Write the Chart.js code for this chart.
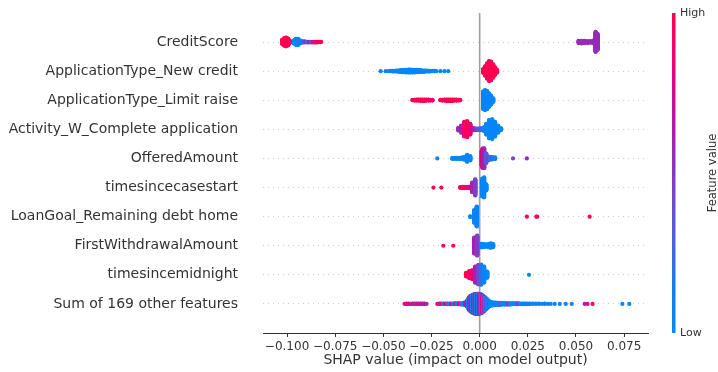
<!DOCTYPE html>
<html>
<head>
<meta charset="utf-8">
<script src="https://cdn.jsdelivr.net/npm/chart.js@4.4.0/dist/chart.umd.min.js"></script>
<style>
  html, body { margin: 0; padding: 0; background: #fff; }
  canvas { display: block; }
</style>
</head>
<body>
<canvas id="shapChart" width="718" height="372"></canvas>
<script>
// features, top row first
const featureNames = [
    "CreditScore",
    "ApplicationType_New credit",
    "ApplicationType_Limit raise",
    "Activity_W_Complete application",
    "OfferedAmount",
    "timesincecasestart",
    "LoanGoal_Remaining debt home",
    "FirstWithdrawalAmount",
    "timesincemidnight",
    "Sum of 169 other features"
];

const xTicks = [-0.1, -0.075, -0.05, -0.025, 0, 0.025, 0.05, 0.075];

// each entry: [SHAP value, points piled up at that value, feature value (0 = low, 1 = high)]
const creditScore = [
    [-0.1025, 14, 1], [-0.1015, 24, 1], [-0.1005, 28, 1], [-0.0994, 22, 1], [-0.0984, 6, 0.95],
    [-0.0963, 12, 0.05], [-0.0953, 20, 0.05], [-0.0943, 20, 0.1], [-0.0932, 10, 0.15],
    [-0.0927, 6, 0.05], [-0.0917, 4, 0.3], [-0.0907, 4, 0.5], [-0.0896, 3, 0.2],
    [-0.0886, 3, 0.6], [-0.0876, 3, 0.4], [-0.0865, 3, 0.8], [-0.0855, 3, 0.9],
    [-0.0845, 3, 1], [-0.0834, 2, 1], [-0.0824, 2, 1],
    [0.0514, 8, 0.55], [0.0530, 9, 0.55], [0.0545, 8, 0.55], [0.0561, 7, 0.55],
    [0.0576, 6, 0.55], [0.0592, 10, 0.55], [0.0602, 62, 0.55], [0.0612, 50, 0.55]
];

const newCredit = [
    [-0.0514, 1, 0.05], [-0.0488, 1, 0.05], [-0.0473, 1, 0.05], [-0.0462, 2, 0.05],
    [-0.0452, 3, 0.05], [-0.0442, 3, 0.05], [-0.0431, 4, 0.05], [-0.0421, 5, 0.05],
    [-0.0411, 6, 0.05], [-0.0400, 7, 0.05], [-0.0390, 8, 0.05], [-0.0380, 9, 0.05],
    [-0.0369, 10, 0.05], [-0.0359, 10, 0.05], [-0.0349, 9, 0.05], [-0.0338, 9, 0.05],
    [-0.0328, 8, 0.05], [-0.0318, 7, 0.05], [-0.0307, 6, 0.05], [-0.0297, 5, 0.05],
    [-0.0287, 5, 0.05], [-0.0276, 4, 0.05], [-0.0266, 3, 0.05], [-0.0256, 3, 0.05],
    [-0.0245, 2, 0.05], [-0.0235, 2, 0.05], [-0.0225, 1, 0.05], [-0.0204, 1, 0.05],
    [-0.0183, 1, 0.05], [-0.0163, 1, 0.05],
    [0.0018, 12, 1], [0.0028, 30, 1], [0.0039, 48, 1], [0.0049, 62, 1],
    [0.0059, 58, 1], [0.0070, 42, 1], [0.0080, 24, 1], [0.0090, 9, 1]
];

const limitRaise = [
    [-0.0349, 2, 1], [-0.0338, 3, 1], [-0.0328, 4, 1], [-0.0318, 4, 1], [-0.0307, 5, 1],
    [-0.0297, 5, 1], [-0.0287, 5, 1], [-0.0276, 4, 1], [-0.0266, 4, 1], [-0.0256, 3, 0.9],
    [-0.0245, 3, 0.85],
    [-0.0204, 2, 1], [-0.0194, 3, 1], [-0.0183, 4, 1], [-0.0173, 5, 1], [-0.0163, 5, 1],
    [-0.0152, 5, 1], [-0.0142, 5, 1], [-0.0132, 4, 1], [-0.0121, 4, 1], [-0.0111, 3, 1],
    [-0.0101, 2, 1],
    [0.0018, 55, 0.05], [0.0028, 62, 0.05], [0.0039, 56, 0.05], [0.0049, 42, 0.05],
    [0.0059, 28, 0.05], [0.0070, 12, 0.05]
];

const completeApplication = [
    [-0.0111, 8, 0.55], [-0.0096, 20, 0.6], [-0.0080, 40, 0.9], [-0.0065, 44, 1],
    [-0.0049, 30, 0.85], [-0.0038, 8, 0.7], [-0.0028, 6, 0.6], [-0.0018, 5, 0.5],
    [-0.0008, 5, 0.4], [0.0003, 6, 0.3], [0.0013, 6, 0.2], [0.0023, 12, 0.1],
    [0.0034, 30, 0.05], [0.0049, 50, 0.05], [0.0065, 54, 0.05], [0.0080, 40, 0.05],
    [0.0096, 20, 0.05], [0.0111, 6, 0.05]
];

const offeredAmount = [
    [-0.0220, 1, 0.05], [-0.0142, 3, 0.05], [-0.0132, 3, 0.05], [-0.0121, 4, 0.05],
    [-0.0111, 4, 0.05], [-0.0101, 4, 0.05], [-0.0090, 6, 0.05],
    [-0.0080, 10, 0.05], [-0.0065, 22, 0.05], [-0.0049, 14, 0.05],
    [0.0008, 40, 0.15], [0.0015, 60, 0.8], [0.0023, 62, 0.6], [0.0034, 30, 0.3],
    [0.0044, 12, 0.4], [0.0054, 10, 0.25], [0.0065, 8, 0.2], [0.0080, 6, 0.1],
    [0.0173, 1, 0.45], [0.0245, 1, 0.55]
];

const timeSinceCaseStart = [
    [-0.0240, 1, 1], [-0.0199, 1, 1], [-0.0101, 3, 1], [-0.0090, 5, 1], [-0.0080, 5, 0.95],
    [-0.0070, 4, 0.9], [-0.0059, 5, 0.85], [-0.0049, 6, 0.8], [-0.0039, 30, 0.6],
    [-0.0023, 50, 0.45],
    [0.0013, 55, 0.05], [0.0023, 62, 0.05], [0.0034, 20, 0.05]
];

const remainingDebtHome = [
    [-0.0049, 3, 0.05], [-0.0028, 40, 0.05], [-0.0015, 62, 0.05],
    [0.0245, 1, 1], [0.0294, 1, 1], [0.0299, 1, 1], [0.0571, 1, 1]
];

const firstWithdrawal = [
    [-0.0189, 1, 1], [-0.0137, 1, 1],
    [-0.0028, 50, 0.6], [-0.0013, 62, 0.45],
    [0.0008, 12, 0.1], [0.0018, 10, 0.05], [0.0028, 8, 0.05], [0.0039, 8, 0.05],
    [0.0049, 12, 0.05], [0.0059, 14, 0.05], [0.0070, 10, 0.05]
];

const timeSinceMidnight = [
    [-0.0070, 12, 1], [-0.0054, 22, 0.95], [-0.0039, 28, 0.85], [-0.0023, 50, 0.6],
    [-0.0008, 60, 0.4], [0.0008, 62, 0.2], [0.0023, 50, 0.05], [0.0039, 20, 0.05],
    [0.0256, 1, 0.05]
];

const otherFeatures = [
    [-0.0390, 1, 1], [-0.0380, 2, 0.7], [-0.0369, 2, 0.9], [-0.0359, 1, 0.6],
    [-0.0349, 2, 0.8], [-0.0338, 2, 0.55], [-0.0328, 2, 0.9], [-0.0318, 2, 0.6],
    [-0.0307, 2, 0.75], [-0.0297, 2, 0.55], [-0.0287, 2, 0.8], [-0.0276, 1, 0.6],
    [-0.0220, 1, 0.9], [-0.0209, 2, 0.6], [-0.0199, 2, 1], [-0.0189, 2, 0.2],
    [-0.0178, 2, 0.9], [-0.0168, 3, 0.4], [-0.0158, 3, 0.1], [-0.0147, 3, 0.8],
    [-0.0137, 3, 0.05], [-0.0127, 4, 0.6], [-0.0116, 4, 0.1], [-0.0106, 4, 0.9],
    [-0.0096, 5, 0.3], [-0.0085, 6, 0.05], [-0.0075, 10, 0.6],
    [-0.0065, 20, 1], [-0.0059, 32, 0.1], [-0.0054, 40, 0.9], [-0.0049, 46, 0.5],
    [-0.0044, 50, 1], [-0.0039, 54, 0.05], [-0.0034, 57, 0.8], [-0.0028, 60, 0.4],
    [-0.0023, 61, 1], [-0.0018, 62, 0.1], [-0.0013, 62, 0.7], [-0.0008, 62, 0.05],
    [-0.0003, 61, 0.95], [0.0003, 60, 0.5], [0.0008, 58, 0.05], [0.0013, 55, 0.85],
    [0.0018, 50, 0.1], [0.0023, 45, 0.6], [0.0028, 40, 0.05], [0.0034, 34, 0.3],
    [0.0039, 28, 0.05], [0.0044, 22, 0.05], [0.0049, 17, 0.2],
    [0.0054, 14, 0.05], [0.0065, 11, 0.05], [0.0075, 9, 0.05], [0.0085, 8, 0.1],
    [0.0096, 7, 0.05], [0.0106, 7, 0.3], [0.0116, 6, 0.05], [0.0127, 6, 0.05],
    [0.0137, 5, 0.05], [0.0147, 5, 0.5], [0.0158, 5, 0.05], [0.0168, 4, 0.05],
    [0.0178, 4, 0.05], [0.0189, 4, 0.05], [0.0199, 4, 0.45], [0.0209, 3, 0.05],
    [0.0220, 3, 0.05], [0.0230, 3, 0.05], [0.0240, 3, 0.05], [0.0250, 3, 0.05],
    [0.0261, 2, 0.05], [0.0276, 2, 0.05], [0.0292, 2, 0.05], [0.0307, 2, 0.05],
    [0.0323, 1, 0.05], [0.0338, 2, 0.05], [0.0354, 1, 0.05], [0.0369, 1, 0.05],
    [0.0390, 1, 0.05], [0.0416, 1, 0.05], [0.0447, 1, 0.05], [0.0478, 1, 0.05],
    [0.0545, 1, 0.6], [0.0560, 1, 0.7], [0.0586, 1, 1],
    [0.0741, 1, 0.05], [0.0777, 1, 0.05]
];

const rows = [
    creditScore, newCredit, limitRaise, completeApplication, offeredAmount,
    timeSinceCaseStart, remainingDebtHome, firstWithdrawal, timeSinceMidnight, otherFeatures
];

// blue -> purple -> red, like shap's red_blue map
const colorStops = [
    [0.00, [0, 139, 251]],
    [0.15, [20, 125, 245]],
    [0.30, [80, 95, 225]],
    [0.45, [125, 65, 200]],
    [0.55, [150, 45, 185]],
    [0.70, [195, 15, 160]],
    [0.85, [235, 0, 120]],
    [1.00, [255, 0, 82]]
];

function colorFor(t) {
    for (let i = 1; i < colorStops.length; i++) {
        const [t1, c1] = colorStops[i];
        const [t0, c0] = colorStops[i - 1];
        if (t <= t1) {
            const k = (t - t0) / (t1 - t0);
            const c = c0.map((v, j) => Math.round(v + (c1[j] - v) * k));
            return `rgb(${c[0]},${c[1]},${c[2]})`;
        }
    }
    return "rgb(255,0,82)";
}

// pile points up and down like shap's beeswarm does
function swarm(entries, rowPos) {
    const maxCount = Math.max(...entries.map(e => e[1]));
    const maxLayer = Math.ceil((maxCount - 1) / 2);
    const step = 0.36 / (maxLayer + 1);
    const points = [];
    const colors = [];
    entries.forEach(([v, n, f]) => {
        for (let layer = 0; layer < n; layer++) {
            const off = Math.ceil(layer / 2) * ((layer % 2) * 2 - 1);
            points.push({ x: v, y: rowPos + off * step });
            colors.push(colorFor(f));
        }
    });
    return { points, colors };
}

const nRows = featureNames.length;

const datasets = rows.map((entries, i) => {
    const s = swarm(entries, nRows - 1 - i);
    return {
        type: "scatter",
        label: featureNames[i],
        data: s.points,
        pointBackgroundColor: s.colors,
        pointBorderWidth: 0,
        pointRadius: 2.1,
        pointHoverRadius: 2.1,
        order: 0
    };
});

// zero line behind the dots
datasets.push({
    type: "line",
    label: "zero",
    data: [{ x: 0, y: -1 }, { x: 0, y: nRows }],
    borderColor: "#a0a0a0",
    borderWidth: 1.6,
    pointRadius: 0,
    order: 1
});

const colorBar = {
    id: "colorBar",
    afterDraw(chart) {
        const { ctx, chartArea: a } = chart;
        const x = a.right + 24;
        const g = ctx.createLinearGradient(0, a.bottom, 0, a.top);
        colorStops.forEach(([t, c]) => g.addColorStop(t, `rgb(${c[0]},${c[1]},${c[2]})`));
        ctx.save();
        ctx.fillStyle = g;
        ctx.fillRect(x, a.top, 3.5, a.bottom - a.top);

        ctx.fillStyle = "#333";
        ctx.font = "11px 'DejaVu Sans'";
        ctx.textAlign = "left";
        ctx.textBaseline = "middle";
        ctx.fillText("High", x + 8, a.top);
        ctx.fillText("Low", x + 8, a.bottom);

        ctx.translate(x + 41, (a.top + a.bottom) / 2);
        ctx.rotate(-Math.PI / 2);
        ctx.textAlign = "center";
        ctx.font = "11.5px 'DejaVu Sans'";
        ctx.fillText("Feature value", 0, 0);
        ctx.restore();
    }
};

Chart.defaults.font.family = "'DejaVu Sans', sans-serif";
Chart.defaults.color = "#333";

new Chart(document.getElementById("shapChart"), {
    type: "scatter",
    data: { datasets: datasets },
    options: {
        responsive: false,
        animation: false,
        events: [],
        layout: { padding: { top: 13, right: 70, left: 0, bottom: 0 } },
        plugins: {
            legend: { display: false },
            tooltip: { enabled: false }
        },
        scales: {
            x: {
                type: "linear",
                min: -0.1125,
                max: 0.0874,
                afterBuildTicks: scale => { scale.ticks = xTicks.map(v => ({ value: v })); },
                afterFit: scale => {
                    scale.height = 39;
                    scale.paddingLeft = 0;
                    scale.paddingRight = 0;
                },
                ticks: {
                    autoSkip: false,
                    maxRotation: 0,
                    padding: 3,
                    font: { size: 12 },
                    color: "#333",
                    callback: v => (v < 0 ? "\u2212" : "") + Math.abs(v).toFixed(3)
                },
                grid: {
                    drawOnChartArea: false,
                    drawTicks: true,
                    tickLength: 4,
                    tickColor: "#333"
                },
                border: { display: true, color: "#333", width: 1 },
                title: {
                    display: true,
                    text: "SHAP value (impact on model output)",
                    font: { size: 14 },
                    color: "#333",
                    padding: { top: 0, bottom: 3.5 }
                }
            },
            y: {
                type: "linear",
                min: -1,
                max: nRows,
                afterBuildTicks: scale => {
                    scale.ticks = featureNames.map((_, i) => ({ value: i }));
                },
                afterFit: scale => {
                    scale.width = 263;
                    scale.paddingTop = 0;
                    scale.paddingBottom = 0;
                },
                ticks: {
                    autoSkip: false,
                    padding: 25,
                    font: { size: 14 },
                    color: "#333",
                    callback: v => featureNames[nRows - 1 - v]
                },
                grid: {
                    drawTicks: false,
                    color: "#cccccc",
                    lineWidth: 1
                },
                border: { display: false, dash: [1, 4] }
            }
        }
    },
    plugins: [colorBar]
});
</script>
</body>
</html>
